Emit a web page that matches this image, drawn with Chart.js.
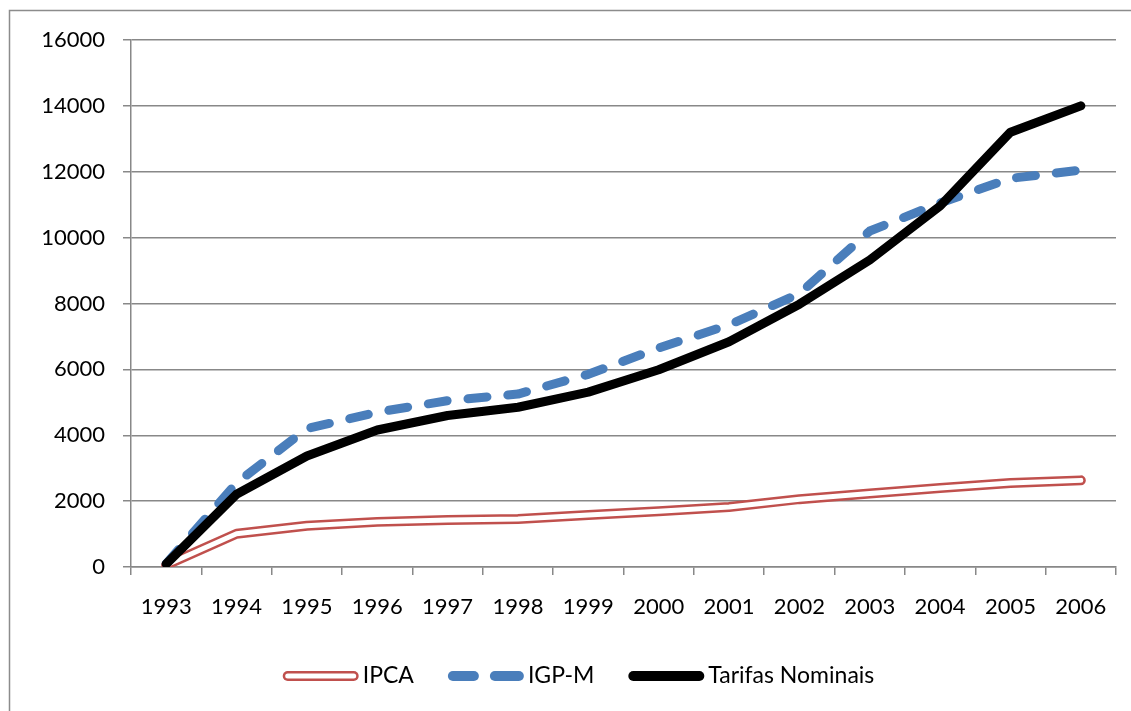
<!DOCTYPE html>
<html>
<head>
<meta charset="utf-8">
<script src="https://cdn.jsdelivr.net/npm/chart.js@4.4.1/dist/chart.umd.min.js"></script>
<style>
html,body{margin:0;padding:0;background:#fff;}
#wrap{position:absolute;left:0;top:0;width:1131px;height:711px;}
</style>
</head>
<body>
<div id="wrap"><canvas id="c" width="1131" height="711"></canvas></div>
<script>
const categories = ['1993','1994','1995','1996','1997','1998','1999','2000','2001','2002','2003','2004','2005','2006'];
const ipca    = [60, 1010, 1250, 1370, 1430, 1460, 1580, 1690, 1820, 2060, 2230, 2400, 2550, 2630];
const igpm    = [100, 2550, 4200, 4700, 5050, 5250, 5850, 6650, 7350, 8300, 10200, 11050, 11800, 12050];
const tarifas = [90, 2210, 3370, 4160, 4600, 4850, 5310, 5990, 6840, 7980, 9320, 10960, 13200, 14000];
const yTicks  = [0, 2000, 4000, 6000, 8000, 10000, 12000, 14000, 16000];
const seriesNames = ['IPCA', 'IGP-M', 'Tarifas Nominais'];

const RED = '#C0504D', BLUE = '#4A7EBB', GRID = '#888888';
const FONT = 'Lato, "Open Sans", sans-serif';

const framePlugin = {
  id: 'frame',
  beforeDraw(chart) {
    const ctx = chart.ctx;
    ctx.save();
    ctx.strokeStyle = '#8c8c8c';
    ctx.lineWidth = 1.5;
    ctx.beginPath();
    ctx.moveTo(9.5, 720);
    ctx.lineTo(9.5, 10.5);
    ctx.lineTo(1140, 10.5);
    ctx.stroke();
    ctx.restore();
  }
};

const legendPlugin = {
  id: 'customLegend',
  afterDraw(chart) {
    const ctx = chart.ctx;
    ctx.save();
    ctx.font = '23px ' + FONT;
    ctx.textBaseline = 'middle';
    const markerW = 76, gapT = 4, gapItem = 34;
    const widths = seriesNames.map(n => markerW + gapT + ctx.measureText(n).width);
    const total = widths.reduce((a, b) => a + b, 0) + gapItem * (seriesNames.length - 1);
    let x = 578.5 - total / 2;
    const y = 676;
    seriesNames.forEach((name, i) => {
      ctx.lineCap = 'round';
      ctx.setLineDash([]);
      if (i === 0) {
        ctx.strokeStyle = RED; ctx.lineWidth = 10;
        ctx.beginPath(); ctx.moveTo(x + 5, y); ctx.lineTo(x + markerW - 5, y); ctx.stroke();
        ctx.strokeStyle = '#fff'; ctx.lineWidth = 5;
        ctx.beginPath(); ctx.moveTo(x + 5, y); ctx.lineTo(x + markerW - 5, y); ctx.stroke();
      } else if (i === 1) {
        ctx.strokeStyle = BLUE; ctx.lineWidth = 10;
        ctx.beginPath(); ctx.moveTo(x + 5, y); ctx.lineTo(x + 26, y); ctx.stroke();
        ctx.beginPath(); ctx.moveTo(x + 47, y); ctx.lineTo(x + markerW - 5, y); ctx.stroke();
      } else {
        ctx.strokeStyle = '#000'; ctx.lineWidth = 10;
        ctx.beginPath(); ctx.moveTo(x + 5, y); ctx.lineTo(x + markerW - 5, y); ctx.stroke();
      }
      ctx.fillStyle = '#000';
      ctx.textAlign = 'left';
      ctx.fillText(name, x + markerW + gapT, y);
      x += widths[i] + gapItem;
    });
    ctx.restore();
  }
};

new Chart(document.getElementById('c'), {
  type: 'line',
  data: {
    labels: categories,
    datasets: [
      { label: seriesNames[2], data: tarifas, borderColor: '#000', borderWidth: 9,
        borderCapStyle: 'round', borderJoinStyle: 'round', pointRadius: 0, tension: 0, order: 0 },
      { label: seriesNames[1], data: igpm, borderColor: BLUE, borderWidth: 9,
        borderDash: [19, 21], borderCapStyle: 'round', borderJoinStyle: 'round', pointRadius: 0, tension: 0, order: 1 },
      { label: seriesNames[0] + ' inner', data: ipca, borderColor: '#fff', borderWidth: 5,
        borderCapStyle: 'round', borderJoinStyle: 'round', pointRadius: 0, tension: 0, order: 2 },
      { label: seriesNames[0], data: ipca, borderColor: RED, borderWidth: 10,
        borderCapStyle: 'round', borderJoinStyle: 'round', pointRadius: 0, tension: 0, order: 3 }
    ]
  },
  options: {
    responsive: false,
    animation: false,
    devicePixelRatio: 1,
    layout: { padding: { left: 0, right: 15, top: 40, bottom: 71 } },
    plugins: { legend: { display: false }, tooltip: { enabled: false } },
    scales: {
      x: {
        type: 'category',
        offset: true,
        grid: { offset: true, drawOnChartArea: false, drawTicks: true, tickLength: 8, color: GRID, lineWidth: 1.5 },
        border: { display: true, color: GRID, width: 1.5 },
        ticks: { font: { family: FONT, size: 22 }, color: '#000', padding: 19, maxRotation: 0, autoSkip: false },
        afterFit(s) { s.height = 73; }
      },
      y: {
        min: 0, max: 16000,
        afterBuildTicks(s) { s.ticks = yTicks.map(v => ({ value: v })); },
        grid: { color: GRID, lineWidth: 1.5, tickLength: 8 },
        border: { display: true, color: GRID, width: 1.5 },
        ticks: { font: { family: FONT, size: 22 }, color: '#000', padding: 18, callback: v => String(v) },
        afterFit(s) { s.width = 131; }
      }
    }
  },
  plugins: [framePlugin, legendPlugin]
});
</script>
</body>
</html>
